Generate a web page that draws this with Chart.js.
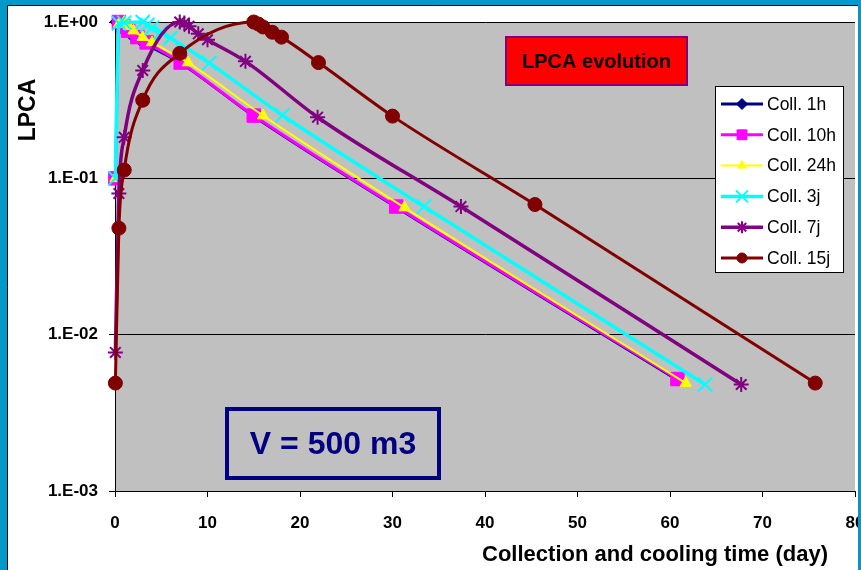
<!DOCTYPE html>
<html>
<head>
<meta charset="utf-8">
<style>
  html, body { margin: 0; padding: 0; background: #0099CC; }
  canvas { display: block; }
</style>
<script src="https://cdn.jsdelivr.net/npm/chart.js@4/dist/chart.umd.min.js"></script>
</head>
<body>
<canvas id="lpca" width="861" height="570"></canvas>
<script>
// Time since start of collection (days) and normalised LPCA for each collection duration
const coll1hDays   = [0.04, 0.54, 1.04, 2.04, 3.04, 7.1, 15.0, 30.4, 60.8];
const coll1hLpca   = [1.0, 0.93, 0.87, 0.79, 0.73, 0.542, 0.248, 0.065, 0.0051];

const coll10hDays  = [0.04, 0.42, 0.92, 1.42, 2.42, 3.42, 7.1, 15.0, 30.4, 60.8];
const coll10hLpca  = [0.1, 1.0, 0.94, 0.88, 0.8, 0.74, 0.55, 0.252, 0.066, 0.0052];

const coll24hDays  = [0.04, 0.42, 1.0, 1.5, 2.0, 3.0, 4.0, 7.9, 16.0, 31.3, 61.7];
const coll24hLpca  = [0.1, 0.97, 1.0, 0.94, 0.88, 0.8, 0.74, 0.55, 0.252, 0.065, 0.0049];

const coll3jDays   = [0.04, 0.42, 1.0, 3.0, 3.5, 4.0, 5.0, 6.0, 10.2, 18.1, 33.4, 63.8];
const coll3jLpca   = [0.1, 0.98, 0.99, 1.0, 0.96, 0.92, 0.86, 0.79, 0.546, 0.253, 0.066, 0.0048];

const coll7jDays   = [0.04, 0.42, 1.0, 3.0, 7.0, 7.5, 8.0, 9.0, 10.0, 14.1, 21.9, 37.4, 67.7];
const coll7jLpca   = [0.0077, 0.08, 0.183, 0.49, 1.0, 0.985, 0.94, 0.84, 0.77, 0.56, 0.246, 0.066, 0.0048];

const coll15jDays  = [0.04, 0.42, 1.0, 3.0, 7.0, 15.0, 15.5, 16.0, 17.0, 18.0, 22.0, 30.0, 45.4, 75.7];
const coll15jLpca  = [0.0049, 0.048, 0.113, 0.316, 0.63, 1.0, 0.97, 0.93, 0.86, 0.8, 0.55, 0.25, 0.068, 0.0049];

const seriesNames  = ['Coll. 1h', 'Coll. 10h', 'Coll. 24h', 'Coll. 3j', 'Coll. 7j', 'Coll. 15j'];
const seriesDays   = [coll1hDays, coll10hDays, coll24hDays, coll3jDays, coll7jDays, coll15jDays];
const seriesLpca   = [coll1hLpca, coll10hLpca, coll24hLpca, coll3jLpca, coll7jLpca, coll15jLpca];

const yTickValues  = [0.001, 0.01, 0.1, 1];
const yTickLabels  = ['1.E-03', '1.E-02', '1.E-01', '1.E+00'];
const xTickValues  = [0, 10, 20, 30, 40, 50, 60, 70, 80];

const chartTitle   = 'LPCA evolution';
const volumeNote   = 'V = 500 m3';
const xAxisTitle   = 'Collection and cooling time (day)';
const yAxisTitle   = 'LPCA';

// Series appearance
const looks = [
  { color: '#000080', fill: '#000080', point: 'rectRot',  r: 5.5, lr: 5.5, pw: 1, lw: 2,   llw: 3 },
  { color: '#FF00FF', fill: '#FF00FF', point: 'rect',     r: 9.5, lr: 7,   pw: 1, lw: 3,   llw: 3 },
  { color: '#FFFF00', fill: '#FFFF00', point: 'triangle', r: 6.5, lr: 5,   pw: 1, lw: 2,   llw: 2 },
  { color: '#00FFFF', fill: '#00FFFF', point: 'crossRot', r: 10,  lr: 8.5, pw: 2, lw: 3.5, llw: 3.5 },
  { color: '#800080', fill: '#800080', point: 'star',     r: 7.5, lr: 6,   pw: 2, lw: 3.5, llw: 3.5 },
  { color: '#800000', fill: '#800000', point: 'circle',   r: 7,   lr: 5,   pw: 1, lw: 3,   llw: 3 }
];

const FONT = "'Liberation Sans', Arial, sans-serif";

const datasets = seriesNames.map((name, i) => ({
  label: name,
  data: seriesDays[i].map((d, k) => ({ x: d, y: seriesLpca[i][k] })),
  borderColor: looks[i].color,
  backgroundColor: looks[i].fill,
  borderWidth: looks[i].lw,
  pointStyle: looks[i].point,
  pointRadius: looks[i].r,
  pointBackgroundColor: looks[i].fill,
  pointBorderColor: looks[i].color,
  pointBorderWidth: looks[i].pw,
  cubicInterpolationMode: 'monotone',
  clip: false,
  order: seriesNames.length - i
}));

function markPoint(ctx, style, r, x, y, look) {
  ctx.save();
  ctx.fillStyle = look.fill;
  ctx.strokeStyle = look.color;
  ctx.lineWidth = look.pw;
  Chart.helpers.drawPoint(ctx, { pointStyle: style, radius: r, rotation: 0, borderWidth: look.pw }, x, y);
  ctx.restore();
}

const decorations = {
  id: 'decorations',
  beforeDraw(chart) {
    const { ctx, chartArea: a } = chart;
    ctx.save();
    ctx.fillStyle = '#0099CC';
    ctx.fillRect(0, 0, chart.width, chart.height);
    ctx.fillStyle = '#FFFFFF';
    ctx.fillRect(8, 6, 850, chart.height - 6);
    ctx.strokeStyle = '#000000';
    ctx.lineWidth = 1;
    ctx.beginPath();
    ctx.moveTo(7.5, chart.height);
    ctx.lineTo(7.5, 5.5);
    ctx.lineTo(858, 5.5);
    ctx.stroke();
    ctx.fillStyle = '#C0C0C0';
    ctx.fillRect(a.left, a.top, a.right - a.left, a.bottom - a.top);
    ctx.restore();
  },
  afterDraw(chart) {
    const { ctx } = chart;
    ctx.save();

    // title box
    ctx.fillStyle = '#FF0000';
    ctx.fillRect(506, 37, 181, 48);
    ctx.strokeStyle = '#800080';
    ctx.lineWidth = 2;
    ctx.strokeRect(506, 37, 181, 48);
    ctx.fillStyle = '#000000';
    ctx.font = 'bold 20px ' + FONT;
    ctx.textAlign = 'center';
    ctx.textBaseline = 'middle';
    ctx.fillText(chartTitle, 596.5, 62);

    // volume note
    ctx.strokeStyle = '#000080';
    ctx.lineWidth = 4;
    ctx.strokeRect(227, 409, 212, 69);
    ctx.fillStyle = '#000080';
    ctx.font = 'bold 32px ' + FONT;
    ctx.fillText(volumeNote, 333, 445);

    // legend
    ctx.fillStyle = '#FFFFFF';
    ctx.fillRect(715.5, 86.5, 128, 186);
    ctx.strokeStyle = '#000000';
    ctx.lineWidth = 1;
    ctx.strokeRect(715.5, 86.5, 128, 186);
    ctx.font = '17.5px ' + FONT;
    ctx.textAlign = 'left';
    seriesNames.forEach((name, i) => {
      const y = 104 + i * 30.8;
      const lk = looks[i];
      ctx.strokeStyle = lk.color;
      ctx.lineWidth = lk.llw;
      ctx.beginPath();
      ctx.moveTo(721, y);
      ctx.lineTo(763, y);
      ctx.stroke();
      markPoint(ctx, lk.point, lk.lr, 742, y, lk);
      ctx.fillStyle = '#000000';
      ctx.textBaseline = 'middle';
      ctx.fillText(name, 767, y + 1);
    });

    // axis titles
    ctx.fillStyle = '#000000';
    ctx.font = 'bold 22px ' + FONT;
    ctx.textAlign = 'center';
    ctx.textBaseline = 'alphabetic';
    ctx.fillText(xAxisTitle, 655, 561);
    ctx.translate(35, 110);
    ctx.rotate(-Math.PI / 2);
    ctx.font = 'bold 23px ' + FONT;
    ctx.fillText(yAxisTitle, 0, 0);
    ctx.restore();

    // right frame strip
    ctx.save();
    ctx.fillStyle = '#0099CC';
    ctx.fillRect(858, 0, chart.width - 858, chart.height);
    ctx.restore();
  }
};

new Chart(document.getElementById('lpca'), {
  type: 'line',
  data: { datasets },
  plugins: [decorations],
  options: {
    responsive: false,
    animation: false,
    events: [],
    layout: { autoPadding: false, padding: { left: 0, right: 6, top: 22, bottom: 0 } },
    plugins: { legend: { display: false }, tooltip: { enabled: false } },
    scales: {
      x: {
        type: 'linear',
        min: 0,
        max: 80,
        afterBuildTicks: s => { s.ticks = xTickValues.map(v => ({ value: v })); },
        afterFit: s => { s.height = 79; s.paddingLeft = 0; s.paddingRight = 0; },
        grid: { drawOnChartArea: false, drawTicks: true, tickLength: 6, color: '#000000', lineWidth: 1 },
        border: { display: true, color: '#000000', width: 1 },
        ticks: {
          color: '#000000',
          padding: 16,
          maxRotation: 0,
          autoSkip: false,
          font: { family: FONT, size: 17, weight: 'bold' }
        }
      },
      y: {
        type: 'logarithmic',
        min: 0.001,
        max: 1,
        afterBuildTicks: s => { s.ticks = yTickValues.map(v => ({ value: v })); },
        afterFit: s => { s.width = 115; s.paddingTop = 0; s.paddingBottom = 0; },
        grid: { drawTicks: true, tickLength: 6, color: '#000000', lineWidth: 1 },
        border: { display: true, color: '#000000', width: 1 },
        ticks: {
          color: '#000000',
          padding: 11,
          autoSkip: false,
          font: { family: FONT, size: 17, weight: 'bold' },
          callback: v => {
            const k = yTickValues.findIndex(t => Math.abs(Math.log10(t) - Math.log10(v)) < 1e-6);
            return k >= 0 ? yTickLabels[k] : '';
          }
        }
      }
    }
  }
});
</script>
</body>
</html>
